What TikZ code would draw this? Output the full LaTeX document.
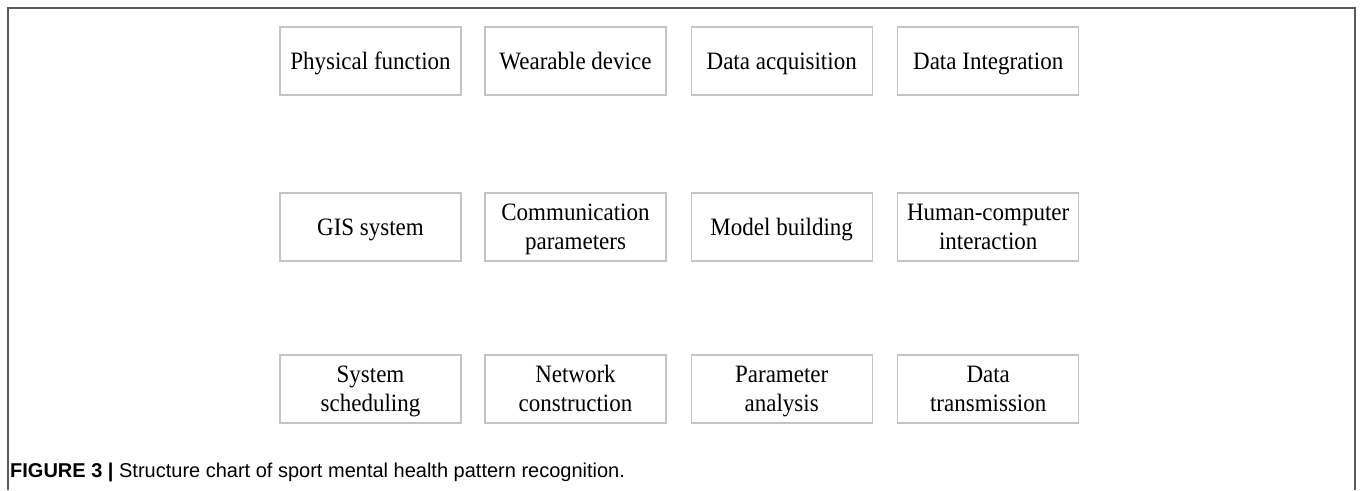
\documentclass[tikz,border=0pt]{standalone}
\usepackage{fontspec}
\setmainfont{Liberation Serif}
\newfontfamily\boxfont[FakeStretch=0.92]{Liberation Serif}
\newfontfamily\capfont{Liberation Sans}
\definecolor{boxline}{HTML}{C4C4C4}
\definecolor{frameline}{HTML}{5A5A5A}
\newcommand{\twolines}[2]{\rule{0pt}{18pt}\smash{#1}\\\smash{#2}\rule[-2pt]{0pt}{2pt}}
\tikzset{
  cell/.style={draw=boxline, line width=1.1pt, rectangle, minimum width=181pt, minimum height=68pt,
    inner sep=0pt, align=center,
    font=\boxfont\fontsize{25}{28.5}\selectfont, text=black},
  onecell/.style={cell, text height=18pt, text depth=2pt},
  capstyle/.style={anchor=west, inner sep=0pt, font=\capfont\fontsize{20}{24}\selectfont}
}
\begin{document}
\begin{tikzpicture}[x=1pt,y=-1pt]
\useasboundingbox (0,0) rectangle (1360,490);
\draw[frameline, line width=1.5pt] (8,490) -- (8,8) -- (1355,8) -- (1355,490);
% row 1
\node[onecell] (pf) at (370.5,61) {Physical function};
\node[onecell] (wd) at (575.5,61) {Wearable device};
\node[onecell] (da) at (781.7,61) {Data acquisition};
\node[onecell] (di) at (988.2,61) {Data Integration};
% row 2
\node[onecell] (gis) at (370.5,227) {GIS system};
\node[cell] (cp) at (575.5,227) {\twolines{Communication}{parameters}};
\node[onecell] (mb) at (781.7,227) {Model building};
\node[cell] (hci) at (988.2,227) {\twolines{Human-computer}{interaction}};
% row 3
\node[cell] (ss) at (370.5,389) {\twolines{System}{scheduling}};
\node[cell] (nc) at (575.5,389) {\twolines{Network}{construction}};
\node[cell] (pa) at (781.7,389) {\twolines{Parameter}{analysis}};
\node[cell] (dt) at (988.2,389) {\twolines{Data}{transmission}};
% caption
\node[capstyle] (cap) at (10,472) {\textbf{FIGURE 3} \textbf{|} Structure chart of sport mental health pattern recognition.};
\end{tikzpicture}
\end{document}
